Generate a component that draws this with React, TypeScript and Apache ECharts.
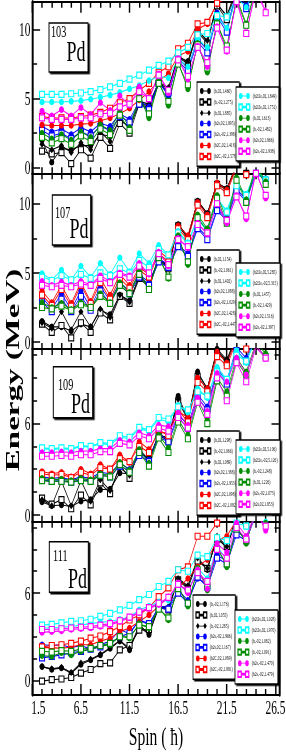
import React, { useEffect, useRef } from "react";
import * as echarts from "echarts";

// ---------- data ----------
const SPINS = [2.5, 3.5, 4.5, 5.5, 6.5, 7.5, 8.5, 9.5, 10.5, 11.5, 12.5, 13.5, 14.5, 15.5, 16.5, 17.5, 18.5, 19.5, 20.5, 21.5, 22.5, 23.5, 24.5, 25.5];
const X_MAJOR = [1.5, 6.5, 11.5, 16.5, 21.5, 26.5];
const X_MINOR = [2.5, 3.5, 4.5, 5.5, 7.5, 8.5, 9.5, 10.5, 12.5, 13.5, 14.5, 15.5, 17.5, 18.5, 19.5, 20.5, 22.5, 23.5, 24.5, 25.5];
const Y_MAJOR_A = [0, 5, 10];
const Y_MINOR_A = [2.5, 7.5];
const Y_MAJOR_B = [0, 6];
const Y_MINOR_B = [1.5, 3, 4.5, 7.5, 9, 10.5];

// 103Pd
const p103BkF = [2.0, 0.4, 1.4, 1.3, 1.6, 1.6, 2.4, 2.3, 3.4, 3.0, 4.6, 4.5, 6.1, 5.7, 8.0, 7.7, 10.0, 9.1, 11.9, 10.9, 13.0, 12.4, 13.8, 13.4];
const p103BkO = [1.2, 1.0, 1.1, 0.3, 1.3, 0.7, 2.2, 1.4, 3.2, 2.5, 4.6, 4.3, 6.1, 5.5, 8.0, 7.5, 9.8, 9.0, 11.7, 10.7, 12.8, 12.2, 13.6, 13.2];
const p103BkD = [1.7, 1.3, 1.6, 1.1, 1.8, 1.3, 2.6, 1.9, 3.6, 2.8, 4.8, 4.6, 6.2, 5.8, 8.1, 7.6, 9.9, 9.2, 11.8, 11.0, 12.9, 12.3, 13.7, 13.3];
const p103BlF = [3.0, 2.6, 2.8, 2.4, 2.9, 2.6, 3.2, 3.0, 3.9, 3.5, 4.8, 4.4, 6.2, 5.2, 7.9, 7.2, 9.3, 8.5, 11.2, 10.0, 12.8, 11.7, 13.4, 13.0];
const p103BlO = [2.7, 2.3, 2.5, 2.1, 2.6, 2.3, 3.0, 2.7, 3.7, 3.3, 4.6, 4.2, 6.1, 5.4, 7.7, 7.0, 9.1, 8.3, 10.9, 9.8, 12.6, 11.5, 13.2, 12.8];
const p103RdF = [3.1, 3.05, 3.05, 3.05, 3.15, 3.2, 3.4, 3.6, 3.9, 4.3, 4.9, 5.5, 6.3, 6.8, 8.1, 8.4, 10.0, 10.4, 11.9, 12.2, 13.0, 13.4, 14.0, 14.3];
const p103RdO = [3.7, 3.6, 3.6, 3.6, 3.7, 3.8, 4.0, 4.3, 4.7, 5.0, 5.6, 6.1, 6.9, 7.3, 8.6, 9.0, 10.4, 10.5, 11.9, 12.3, 13.2, 13.6, 14.2, 14.6];
const p103CyF = [4.75, 4.75, 4.75, 4.8, 4.85, 4.95, 5.1, 5.25, 5.45, 5.7, 5.95, 6.3, 6.6, 6.5, 7.9, 7.3, 9.3, 8.7, 10.9, 10.1, 12.3, 11.6, 13.0, 12.7];
const p103CyO = [5.3, 5.3, 5.3, 5.35, 5.4, 5.5, 5.65, 5.85, 6.1, 6.4, 6.7, 7.05, 7.4, 7.7, 8.3, 8.7, 9.6, 9.7, 11.0, 10.9, 12.3, 12.1, 13.3, 13.1];
const p103GnF = [2.5, 2.1, 2.4, 2.0, 2.6, 2.2, 3.1, 2.7, 4.1, 2.9, 5.1, 3.6, 6.2, 4.5, 7.6, 5.7, 9.0, 6.9, 10.5, 8.5, 12.3, 10.4, 13.2, 12.5];
const p103GnO = [2.2, 1.8, 2.1, 1.7, 2.3, 1.9, 2.8, 2.4, 3.8, 2.7, 5.0, 3.9, 6.1, 4.8, 7.5, 6.0, 8.9, 7.2, 10.4, 8.8, 12.1, 10.3, 13.0, 12.3];
const p103MgF = [4.1, 3.75, 4.2, 3.75, 4.35, 3.85, 4.7, 4.15, 5.2, 4.5, 5.85, 4.95, 6.8, 5.4, 7.9, 6.4, 8.8, 7.3, 10.2, 8.4, 12.2, 9.7, 13.0, 11.3];
const p103MgO = [3.6, 3.5, 3.5, 3.5, 3.6, 3.6, 3.9, 3.95, 4.4, 4.6, 5.5, 5.0, 6.7, 5.6, 7.8, 6.6, 8.7, 7.6, 10.1, 8.5, 12.0, 9.7, 12.8, 11.2];

// 107Pd
const p107BkF = [1.5, 1.1, 1.1, 0.8, 1.3, 1.1, 2.3, 2.0, 3.4, 3.0, 4.7, 4.1, 6.1, 5.4, 8.5, 7.6, 10.2, 9.3, 11.5, 11.1, 12.8, 12.3, 13.5, 13.2];
const p107BkO = [1.3, 0.7, 1.2, 0.3, 1.4, 0.7, 2.1, 1.6, 3.3, 2.8, 4.6, 4.0, 6.0, 5.3, 8.4, 7.5, 10.1, 9.2, 11.4, 11.0, 12.7, 12.2, 13.4, 13.1];
const p107BkD = [1.4, 1.0, 2.2, 0.9, 2.2, 1.1, 2.4, 1.8, 3.4, 2.9, 4.8, 4.1, 6.1, 5.4, 8.5, 7.6, 10.2, 9.3, 11.5, 11.1, 12.8, 12.3, 13.5, 13.2];
const p107BlF = [3.25, 2.4, 3.5, 2.35, 3.7, 2.5, 4.0, 3.0, 4.3, 3.7, 4.9, 4.3, 6.0, 5.6, 7.0, 6.4, 8.3, 7.6, 9.6, 9.0, 11.0, 10.4, 12.3, 11.8];
const p107BlO = [2.9, 2.2, 3.1, 2.2, 3.3, 2.3, 3.7, 2.8, 4.1, 3.5, 4.7, 4.1, 5.8, 5.4, 6.9, 6.2, 8.2, 7.4, 9.5, 8.8, 10.9, 10.2, 12.2, 11.7];
const p107RdF = [3.7, 2.85, 4.1, 2.8, 4.3, 2.95, 4.6, 3.4, 4.9, 4.1, 5.4, 4.9, 6.6, 6.0, 8.4, 7.7, 10.1, 9.2, 11.5, 11.0, 12.8, 12.3, 13.5, 13.2];
const p107RdO = [3.4, 2.65, 3.8, 2.6, 4.1, 2.8, 4.3, 3.1, 4.6, 3.9, 5.2, 4.7, 6.4, 5.8, 8.2, 7.4, 9.9, 9.0, 11.3, 10.8, 12.6, 12.1, 13.3, 13.0];
const p107CyF = [4.95, 4.5, 5.2, 4.5, 5.5, 4.7, 5.7, 4.9, 6.1, 5.1, 6.4, 5.7, 7.0, 6.3, 8.0, 7.2, 9.0, 8.1, 10.4, 9.5, 11.4, 10.7, 12.4, 11.8];
const p107CyO = [4.7, 4.45, 4.8, 4.5, 4.9, 4.6, 5.0, 4.8, 5.3, 5.0, 5.9, 5.4, 6.7, 6.3, 7.9, 7.1, 8.9, 8.0, 10.3, 9.4, 11.3, 10.6, 12.3, 11.7];
const p107GnF = [2.85, 2.5, 2.8, 2.35, 2.85, 2.55, 3.5, 2.85, 4.3, 3.6, 5.1, 3.85, 6.3, 4.6, 7.7, 5.6, 9.2, 8.2, 10.6, 8.9, 11.9, 10.3, 12.8, 11.6];
const p107GnO = [2.5, 2.4, 2.6, 2.3, 2.7, 2.5, 3.3, 2.8, 4.1, 3.5, 4.9, 3.8, 6.1, 4.7, 7.5, 5.8, 9.0, 8.0, 10.4, 8.6, 11.7, 10.1, 12.6, 11.4];
const p107MgF = [4.4, 4.1, 4.35, 4.1, 4.4, 4.15, 4.8, 4.4, 5.0, 4.8, 5.7, 4.9, 6.5, 5.5, 7.5, 6.8, 8.6, 7.8, 10.0, 8.6, 10.6, 8.9, 12.4, 10.4];
const p107MgO = [4.1, 4.0, 4.1, 4.0, 4.2, 4.1, 4.6, 4.3, 4.9, 4.7, 5.5, 5.0, 6.4, 5.6, 7.4, 6.9, 8.5, 7.9, 10.0, 8.8, 10.5, 9.1, 12.2, 10.6];

// 109Pd
const p109BkF = [0.85, 0.6, 0.65, 0.55, 0.9, 1.0, 1.65, 1.7, 2.75, 2.7, 4.05, 3.7, 5.3, 5.0, 7.8, 6.3, 9.4, 8.3, 10.9, 10.2, 11.8, 11.2, 12.5, 12.0];
const p109BkO = [1.1, 0.7, 1.0, 0.4, 1.3, 0.65, 2.1, 1.4, 3.3, 2.4, 4.3, 3.6, 5.2, 4.9, 7.5, 6.2, 9.1, 8.2, 10.7, 10.0, 11.6, 11.0, 12.3, 11.8];
const p109BkD = [1.0, 0.6, 2.2, 0.6, 2.25, 0.9, 2.3, 1.6, 3.1, 2.6, 4.2, 3.6, 5.3, 5.0, 7.6, 6.3, 9.3, 8.3, 10.8, 10.1, 11.7, 11.1, 12.4, 11.9];
const p109BlF = [2.5, 2.4, 2.45, 2.3, 2.5, 2.4, 2.8, 2.7, 3.4, 3.0, 4.1, 3.6, 5.3, 4.9, 6.6, 5.9, 7.9, 7.1, 9.6, 8.8, 11.0, 10.3, 12.0, 11.5];
const p109BlO = [2.3, 2.2, 2.25, 2.15, 2.3, 2.25, 2.6, 2.5, 3.2, 2.9, 3.9, 3.5, 5.1, 4.8, 6.4, 5.7, 7.7, 6.9, 9.4, 8.6, 10.8, 10.1, 11.8, 11.3];
const p109RdF = [2.85, 2.7, 2.8, 2.5, 3.0, 2.7, 3.3, 3.0, 3.95, 3.45, 4.8, 4.3, 5.4, 5.4, 6.8, 6.4, 9.0, 8.3, 10.7, 10.0, 11.6, 11.1, 12.4, 11.9];
const p109RdO = [2.7, 2.6, 2.65, 2.45, 2.8, 2.6, 3.1, 3.0, 3.7, 3.5, 4.5, 4.1, 5.6, 5.2, 6.9, 6.1, 8.7, 8.1, 10.4, 9.8, 11.4, 10.9, 12.2, 11.7];
const p109CyF = [4.35, 4.3, 4.35, 4.3, 4.5, 4.45, 4.7, 4.6, 5.1, 5.0, 5.65, 5.5, 6.3, 6.1, 7.2, 6.75, 8.3, 7.7, 9.7, 8.9, 10.8, 10.0, 11.8, 11.2];
const p109CyO = [4.4, 4.35, 4.4, 4.35, 4.55, 4.5, 4.75, 4.7, 5.2, 5.1, 5.75, 5.6, 6.4, 6.3, 7.1, 6.9, 8.1, 7.8, 9.4, 8.9, 10.5, 10.1, 11.5, 11.1];
const p109GnF = [2.4, 2.3, 2.35, 2.25, 2.4, 2.3, 2.7, 2.6, 3.45, 2.95, 4.3, 3.4, 5.25, 4.4, 6.25, 5.25, 7.6, 6.3, 9.0, 8.1, 10.3, 9.4, 11.3, 10.6];
const p109GnO = [2.25, 2.2, 2.2, 2.15, 2.25, 2.2, 2.6, 2.5, 3.3, 2.8, 4.1, 3.2, 5.05, 4.1, 6.1, 5.0, 7.4, 6.0, 8.8, 7.8, 10.1, 9.2, 11.1, 10.4];
const p109MgF = [4.1, 4.1, 4.15, 4.1, 4.2, 4.2, 4.35, 4.35, 4.9, 4.8, 5.4, 5.2, 5.9, 5.8, 6.7, 5.9, 7.7, 6.8, 9.3, 8.75, 10.3, 9.2, 11.2, 10.3];
const p109MgO = [3.85, 3.85, 3.9, 3.85, 3.95, 3.95, 4.15, 4.15, 4.7, 4.6, 5.2, 5.0, 5.7, 5.5, 6.4, 5.7, 7.4, 6.6, 9.0, 7.5, 10.0, 8.75, 11.0, 10.3];

// 111Pd
const p111BkF = [0.95, 0.75, 0.85, 0.5, 1.1, 1.4, 1.75, 2.2, 2.7, 2.1, 3.7, 3.15, 5.0, 5.0, 6.9, 6.45, 8.3, 7.6, 9.8, 9.1, 11.2, 10.6, 12.2, 11.7];
const p111BkO = [-0.05, 0.05, 0.1, 0.2, 0.5, 0.75, 1.15, 1.2, 2.1, 2.4, 3.45, 3.5, 5.0, 4.85, 6.9, 6.3, 8.2, 7.7, 9.7, 9.2, 11.0, 10.7, 12.1, 11.8];
const p111BkD = [0.95, 0.8, 0.9, 0.55, 1.2, 1.45, 1.8, 2.25, 2.75, 2.2, 3.8, 3.2, 5.05, 5.05, 7.0, 6.5, 8.4, 7.7, 9.9, 9.2, 11.3, 10.7, 12.3, 11.8];
const p111BlF = [2.45, 2.4, 2.45, 2.25, 2.4, 2.15, 2.45, 2.7, 3.5, 3.2, 4.15, 3.8, 5.1, 5.0, 6.2, 5.5, 7.0, 6.6, 8.6, 8.2, 10.2, 9.8, 11.5, 11.1];
const p111BlO = [1.55, 1.65, 1.75, 1.9, 2.0, 2.15, 2.3, 2.55, 3.0, 3.25, 4.15, 3.9, 5.0, 4.9, 6.0, 5.3, 7.1, 6.4, 8.4, 8.0, 10.0, 9.6, 11.4, 11.0];
const p111RdF = [2.25, 2.25, 2.2, 2.3, 2.45, 2.45, 2.7, 2.9, 3.35, 3.6, 4.05, 4.5, 5.1, 5.75, 6.35, 7.0, 7.8, 8.3, 9.6, 9.9, 11.0, 11.3, 12.2, 12.5];
const p111RdO = [2.3, 2.4, 2.45, 2.55, 2.7, 2.9, 3.05, 3.35, 3.7, 4.15, 4.5, 5.0, 5.75, 6.35, 7.6, 7.8, 9.9, 9.9, 10.8, 11.2, 12.0, 12.3, 13.0, 13.3];
const p111CyF = [3.6, 3.6, 3.65, 3.7, 3.8, 3.9, 4.0, 4.05, 4.2, 4.35, 4.85, 5.1, 5.4, 5.5, 6.6, 6.1, 7.7, 7.0, 9.2, 8.3, 10.4, 9.6, 11.5, 10.9];
const p111CyO = [3.8, 3.85, 3.95, 4.05, 4.1, 4.2, 4.4, 4.6, 4.85, 5.15, 5.55, 5.9, 6.45, 6.8, 7.6, 7.5, 8.6, 8.5, 9.8, 9.6, 10.8, 10.6, 11.8, 11.6];
const p111GnF = [1.7, 1.65, 1.9, 1.75, 2.0, 2.15, 2.35, 2.45, 3.05, 2.9, 3.9, 3.6, 5.0, 4.15, 6.45, 5.1, 7.7, 6.2, 9.2, 7.8, 10.6, 9.4, 11.8, 10.8];
const p111GnO = [2.0, 1.95, 2.05, 2.0, 2.15, 2.2, 2.4, 2.55, 3.0, 3.0, 3.8, 3.7, 4.9, 4.3, 6.3, 5.3, 7.6, 6.5, 9.0, 8.0, 10.4, 9.6, 11.6, 11.0];
const p111MgF = [3.3, 3.35, 3.4, 3.5, 3.55, 3.6, 3.7, 3.8, 4.05, 4.3, 4.65, 4.95, 5.2, 5.65, 6.7, 6.0, 7.6, 6.3, 9.4, 8.8, 10.8, 9.9, 11.6, 10.3];
const p111MgO = [3.5, 3.5, 3.55, 3.6, 3.65, 3.7, 3.8, 3.9, 4.1, 4.35, 4.7, 5.0, 5.3, 5.7, 6.6, 6.2, 7.4, 6.8, 9.0, 8.4, 10.5, 9.7, 11.4, 10.6];

// legend labels
const NAMES_103 = ["(h,02,1.460)", "(h,-02,1.275)", "(h,02,1.885)", "(h2s,02,1.895)", "(h2s,-02,1.398)", "(h2C,02,1.418)", "(h2C,-02,1.578)", "(h2i2s,02,1.849)", "(h2i2s,02,1.751)", "(h,02,1.613)", "(h,-02,1.482)", "(h2s,02,1.866)", "(h2s,-02,1.938)"];
const NAMES_107 = ["(h,02,1.154)", "(h,-02,1.061)", "(h,02,1.402)", "(h2s,02,1.088)", "(h2s,-02,1.029)", "(h2C,02,1.428)", "(h2C,-02,1.447)", "(h2i2s,02,5.285)", "(h2i2s,-02,5.315)", "(h,02,1.457)", "(h,-02,1.429)", "(h2s,02,1.516)", "(h2s,-02,1.397)"];
const NAMES_109 = ["(h,02,1.298)", "(h,-02,1.066)", "(h,02,1.089)", "(h2s,02,1.388)", "(h2s,-02,1.953)", "(h2C,02,1.098)", "(h2C,-02,1.082)", "(h2i2s,02,5.106)", "(h2i2s,-02,5.126)", "(h,-02,1.248)", "(h,02,1.226)", "(h2s,-02,1.073)", "(h2s,02,1.853)"];
const NAMES_111 = ["(h,-02,1.176)", "(h,02,1.055)", "(h,-02,1.285)", "(h2s,-02,1.966)", "(h2s,02,1.167)", "(h2C,02,1.089)", "(h2C,-02,1.881)", "(h2i2s,02,1.028)", "(h2i2s,02,1.970)", "(h,-02,1.082)", "(h,-02,1.091)", "(h2s,-02,1.470)", "(h2s,-02,1.479)"];

// ---------- layout / style ----------
const CW = 477;
const S = 286 / CW; // horizontal squeeze of the whole figure
const ix = (x: number) => x / S; // actual px -> internal px
const FONT = '"Liberation Serif", "Times New Roman", serif';
const X_MIN = 1.5;
const X_MAX = 26.9;

const STYLES = [
  { color: "#000000", symbol: "circle", open: false },
  { color: "#000000", symbol: "rect", open: true },
  { color: "#000000", symbol: "diamond", open: false },
  { color: "#0000ff", symbol: "circle", open: false },
  { color: "#0000ff", symbol: "rect", open: true },
  { color: "#ff0000", symbol: "circle", open: false },
  { color: "#ff0000", symbol: "rect", open: true },
  { color: "#00ffff", symbol: "circle", open: false },
  { color: "#00ffff", symbol: "rect", open: true },
  { color: "#008c00", symbol: "circle", open: false },
  { color: "#008c00", symbol: "rect", open: true },
  { color: "#ff00ff", symbol: "circle", open: false },
  { color: "#ff00ff", symbol: "rect", open: true },
];

const ICONS: Record<string, string> = {
  circle: "path://M0,4a4,4 0 1,0 8,0a4,4 0 1,0 -8,0zM8,3.4h8v1.2h-8zM16,4a4,4 0 1,0 8,0a4,4 0 1,0 -8,0z",
  rect: "path://M0.5,0.5h7v7h-7zM8,3.5h8v1h-8zM16.5,0.5h7v7h-7z",
  diamond: "path://M4,0L8,4L4,8L0,4zM8,3.4h8v1.2h-8zM20,0L24,4L20,8L16,4z",
};

const PANELS = [
  {
    iso: "103", top: 1.7, bottom: 173.3, yMin: -0.4, yMax: 12, yMajor: Y_MAJOR_A, yMinor: Y_MINOR_A,
    box: { x: 49, y: 23, w: 39, h: 49 }, sup: { x: 51, y: 32 }, pd: { x: 66.5, y: 50.5 },
    legL: { x: 197, y: 82 }, legR: { x: 236, y: 87 },
    values: [p103BkF, p103BkO, p103BkD, p103BlF, p103BlO, p103RdF, p103RdO, p103CyF, p103CyO, p103GnF, p103GnO, p103MgF, p103MgO],
    names: NAMES_103,
  },
  {
    iso: "107", top: 173.3, bottom: 349, yMin: -0.5, yMax: 12.2, yMajor: Y_MAJOR_A, yMinor: Y_MINOR_A,
    box: { x: 52.3, y: 195, w: 38.4, h: 50 }, sup: { x: 55, y: 213 }, pd: { x: 69.5, y: 228 },
    legL: { x: 197, y: 250 }, legR: { x: 236, y: 263 },
    values: [p107BkF, p107BkO, p107BkD, p107BlF, p107BlO, p107RdF, p107RdO, p107CyF, p107CyO, p107GnF, p107GnO, p107MgF, p107MgO],
    names: NAMES_107,
  },
  {
    iso: "109", top: 349, bottom: 521.7, yMin: -0.45, yMax: 10.9, yMajor: Y_MAJOR_B, yMinor: Y_MINOR_B,
    box: { x: 53.3, y: 366.7, w: 39.4, h: 51 }, sup: { x: 58, y: 385 }, pd: { x: 71, y: 403 },
    legL: { x: 197, y: 431 }, legR: { x: 236, y: 440 },
    values: [p109BkF, p109BkO, p109BkD, p109BlF, p109BlO, p109RdF, p109RdO, p109CyF, p109CyO, p109GnF, p109GnO, p109MgF, p109MgO],
    names: NAMES_109,
  },
  {
    iso: "111", top: 521.7, bottom: 695, yMin: -1, yMax: 10.9, yMajor: Y_MAJOR_B, yMinor: Y_MINOR_B,
    box: { x: 49.3, y: 541.7, w: 39, h: 50.6 }, sup: { x: 53, y: 556 }, pd: { x: 68, y: 578 },
    legL: { x: 193, y: 595 }, legR: { x: 235, y: 610 },
    values: [p111BkF, p111BkO, p111BkD, p111BlF, p111BlO, p111RdF, p111RdO, p111CyF, p111CyO, p111GnF, p111GnO, p111MgF, p111MgO],
    names: NAMES_111,
  },
];

function buildOption() {
  const grid: any[] = [];
  const xAxis: any[] = [];
  const yAxis: any[] = [];
  const series: any[] = [];
  const legend: any[] = [];
  const graphic: any[] = [];

  PANELS.forEach((p, i) => {
    const last = i === PANELS.length - 1;
    grid.push({
      left: ix(32.3), width: ix(247), top: p.top, height: p.bottom - p.top,
      containLabel: false, outerBoundsMode: "none", show: false,
    });
    const xb = { type: "value", gridIndex: i, min: X_MIN, max: X_MAX, splitLine: { show: false }, silent: true };
    const mkX = (pos: string, major: boolean) => ({
      ...xb,
      position: pos,
      axisLine: { show: major, onZero: false, lineStyle: { color: "#000", width: 2 } },
      axisTick: { show: true, inside: true, length: major ? 11 : 6, customValues: major ? X_MAJOR : X_MINOR, lineStyle: { color: "#000", width: 2.4 } },
      axisLabel: major && pos === "bottom" && last
        ? {
            show: true, customValues: X_MAJOR, margin: 3, color: "#000", fontFamily: FONT, fontSize: 19,
            formatter: (v: number) => (v === 1.5 ? "{first|1.5}" : String(v)),
            rich: { first: { padding: [0, 0, 0, 20], fontFamily: FONT, fontSize: 19, color: "#000" } },
          }
        : { show: false },
    });
    xAxis.push(mkX("bottom", true), mkX("bottom", false), mkX("top", true), mkX("top", false));

    const yb = { type: "value", gridIndex: i, min: p.yMin, max: p.yMax, splitLine: { show: false }, silent: true };
    const mkY = (pos: string, major: boolean) => ({
      ...yb,
      position: pos,
      axisLine: { show: major, onZero: false, lineStyle: { color: "#000", width: 3.3 } },
      axisTick: { show: true, inside: true, length: major ? 13 : 8, customValues: major ? p.yMajor : p.yMinor, lineStyle: { color: "#000", width: 1.5 } },
      axisLabel: major && pos === "left"
        ? { show: true, customValues: p.yMajor, margin: 3, color: "#000", fontFamily: FONT, fontSize: 19 }
        : { show: false },
    });
    yAxis.push(mkY("left", true), mkY("left", false), mkY("right", true), mkY("right", false));

    STYLES.forEach((st, k) => {
      const vals = p.values[k];
      series.push({
        type: "line",
        name: p.names[k],
        xAxisIndex: 4 * i,
        yAxisIndex: 4 * i,
        data: SPINS.map((s, j) => [s, vals[j]]),
        symbol: st.symbol,
        symbolSize: st.symbol === "circle" ? [8.5, 6.5] : st.symbol === "rect" ? [8.5, 6] : [8.5, 7],
        showAllSymbol: true,
        clip: true,
        itemStyle: st.open ? { color: "#ffffff", borderColor: st.color, borderWidth: 1.4 } : { color: st.color, borderWidth: 0 },
        lineStyle: { color: st.color, width: 1.1 },
        emphasis: { disabled: true },
        z: 2,
      });
    });

    const legBase = {
      orient: "vertical",
      itemWidth: 18, itemHeight: 7, itemGap: 4.3,
      padding: [6, 4, 6, 4],
      backgroundColor: "#ffffff", borderColor: "#000", borderWidth: 1.3,
      shadowColor: "#000", shadowBlur: 0, shadowOffsetX: 2.5, shadowOffsetY: 1.5,
      selectedMode: false,
      textStyle: { fontSize: 6, fontFamily: FONT, color: "#000" },
      z: 5,
    };
    legend.push({
      ...legBase, left: ix(p.legL.x), top: p.legL.y,
      data: p.names.slice(0, 7).map((n, k) => ({ name: n, icon: ICONS[STYLES[k].symbol] })),
    });
    legend.push({
      ...legBase, left: ix(p.legR.x), top: p.legR.y, z: 6,
      data: p.names.slice(7).map((n, k) => ({ name: n, icon: ICONS[STYLES[k + 7].symbol] })),
    });

    graphic.push({
      type: "rect", z: 10,
      shape: { x: ix(p.box.x), y: p.box.y, width: ix(p.box.w), height: p.box.h },
      style: { fill: "#fff", stroke: "#000", lineWidth: 1.6, shadowColor: "#000", shadowBlur: 0, shadowOffsetX: 2.5, shadowOffsetY: 1.5 },
    });
    graphic.push({
      type: "text", z: 11, x: ix(p.sup.x), y: p.sup.y,
      style: { text: p.iso, font: `17px ${FONT}`, fill: "#000", align: "left", verticalAlign: "middle" },
    });
    graphic.push({
      type: "text", z: 11, x: ix(p.pd.x), y: p.pd.y,
      style: { text: "Pd", font: `30px ${FONT}`, fill: "#000", align: "left", verticalAlign: "middle" },
    });
  });

  graphic.push({
    type: "text", z: 11, x: ix(12), y: 370, rotation: Math.PI / 2,
    style: { text: "Energy (MeV)", font: `bold 33px ${FONT}`, fill: "#000", align: "center", verticalAlign: "middle" },
  });
  graphic.push({
    type: "text", z: 11, x: ix(156), y: 737,
    style: { text: "Spin ( ħ)", font: `26px ${FONT}`, fill: "#000", align: "center", verticalAlign: "middle" },
  });

  return { animation: false, backgroundColor: "#ffffff", grid, xAxis, yAxis, series, legend, graphic };
}

export default function App() {
  const ref = useRef<HTMLDivElement>(null);
  useEffect(() => {
    if (!ref.current) return;
    const chart = echarts.init(ref.current, undefined, { renderer: "svg" });
    chart.setOption(buildOption() as any);
    return () => chart.dispose();
  }, []);
  return (
    <div style={{ position: "fixed", left: 0, top: 0, width: 286, height: 754, overflow: "hidden", background: "#fff" }}>
      <div ref={ref} style={{ width: CW, height: 754, transform: `scaleX(${S})`, transformOrigin: "0 0" }} />
    </div>
  );
}
